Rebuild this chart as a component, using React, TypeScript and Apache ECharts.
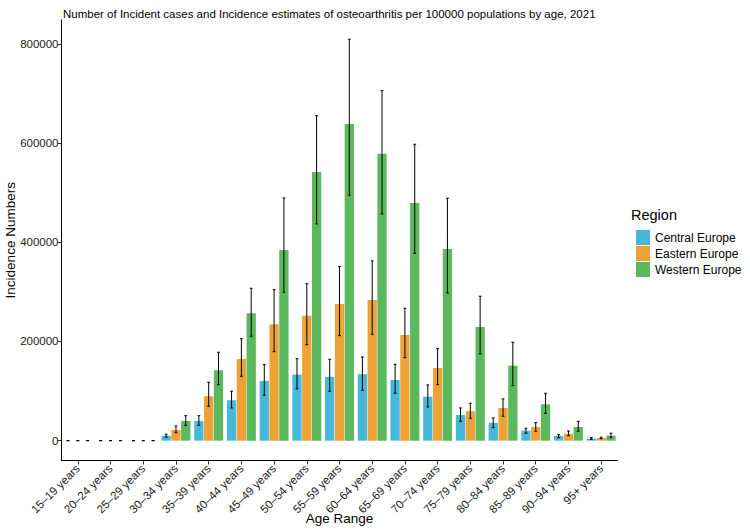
import React, { useEffect, useRef } from "react";
import * as echarts from "echarts";

const categories = [
  "15–19 years", "20–24 years", "25–29 years", "30–34 years", "35–39 years",
  "40–44 years", "45–49 years", "50–54 years", "55–59 years", "60–64 years",
  "65–69 years", "70–74 years", "75–79 years", "80–84 years", "85–89 years",
  "90–94 years", "95+ years",
];

const regions = ["Central Europe", "Eastern Europe", "Western Europe"];
const colors = ["#46B8DA", "#EEA236", "#5CB85C"];

const central = [0, 0, 0, 10000, 39700, 81400, 120400, 133100, 128700, 133900, 122400, 88700, 51800, 36000, 20200, 9500, 4000];
const centralLow = [0, 0, 0, 7000, 31000, 65900, 91500, 104200, 99600, 101600, 95600, 67900, 39100, 26200, 15000, 6000, 2800];
const centralHigh = [0, 0, 0, 13000, 50400, 99600, 153200, 165300, 164100, 168700, 154000, 112300, 65900, 45800, 25000, 12100, 6000];

const eastern = [0, 0, 0, 21600, 89500, 164700, 234700, 252000, 275600, 283700, 213100, 146600, 59300, 65900, 27600, 14100, 5400];
const easternLow = [0, 0, 0, 16000, 69300, 129800, 179400, 193500, 211700, 214500, 167300, 112900, 45200, 49200, 19000, 10100, 4000];
const easternHigh = [0, 0, 0, 29600, 117700, 205600, 304400, 316500, 350800, 362300, 266900, 185500, 75400, 84100, 36300, 19600, 7000];

const western = [0, 0, 0, 39700, 141900, 256800, 384500, 541700, 638500, 578600, 479200, 386500, 229200, 151200, 73400, 27600, 10000];
const westernLow = [0, 0, 0, 31000, 112900, 210500, 299200, 436900, 494700, 457000, 377800, 297700, 174800, 110900, 55200, 19000, 6000];
const westernHigh = [0, 0, 0, 50400, 178200, 307200, 489300, 655000, 809300, 705600, 597500, 488700, 291100, 198400, 95500, 39100, 15000];

const yTicks = [0, 200000, 400000, 600000, 800000];

const FONT = "'Liberation Sans', Arial, Helvetica, sans-serif";

export default function App() {
  const ref = useRef<HTMLDivElement>(null);
  useEffect(() => {
    document.body.style.margin = "0";
    if (!ref.current) return;
    const chart = echarts.init(ref.current, undefined, { renderer: "svg" });
    const values = [central, eastern, western];
    const lows = [centralLow, easternLow, westernLow];
    const highs = [centralHigh, easternHigh, westernHigh];

    const barSeries = regions.map((name, r) => ({
      name,
      type: "bar",
      barWidth: "28.4%",
      barGap: "5.6%",
      itemStyle: { color: colors[r] },
      data: values[r],
      z: 2,
    }));

    const errSeries = regions.map((name, r) => ({
      name: name + " err",
      type: "custom",
      z: 5,
      encode: { x: 0, y: [1, 2] },
      data: values[r].map((_, i) => [i, lows[r][i], highs[r][i]]),
      renderItem: (params: any, api: any) => {
        const idx = api.value(0);
        const band = api.size([1, 0])[0];
        const dx = (r - 1) * band * 0.3;
        const lo = api.coord([idx, api.value(1)]);
        const hi = api.coord([idx, api.value(2)]);
        const x = lo[0] + dx;
        const hw = 1.4;
        const style = { stroke: "#000", lineWidth: 1 };
        return {
          type: "group",
          children: [
            { type: "line", shape: { x1: x, y1: lo[1], x2: x, y2: hi[1] }, style },
            { type: "line", shape: { x1: x - hw, y1: lo[1], x2: x + hw, y2: lo[1] }, style },
            { type: "line", shape: { x1: x - hw, y1: hi[1], x2: x + hw, y2: hi[1] }, style },
          ],
        };
      },
    }));

    chart.setOption({
      animation: false,
      backgroundColor: "#fff",
      textStyle: { fontFamily: FONT },
      title: {
        text: "Number of Incident cases and Incidence estimates of osteoarthritis per 100000 populations by age, 2021",
        left: 58,
        top: 3,
        textStyle: { fontSize: 11.5, fontWeight: "normal", color: "#000", fontFamily: FONT },
      },
      legend: {
        data: regions,
        orient: "vertical",
        left: 631,
        top: 225,
        itemWidth: 14,
        itemHeight: 15,
        itemGap: 1,
        icon: "rect",
        textStyle: { fontSize: 12, color: "#000", fontFamily: FONT },
      },
      graphic: [
        {
          type: "text",
          left: 631,
          top: 207,
          style: { text: "Region", fontSize: 14.5, fill: "#000", fontFamily: FONT },
        },
      ],
      grid: {
        left: 61.5,
        right: 132.5,
        top: 20,
        bottom: 70.5,
        containLabel: false,
        outerBoundsMode: "none",
      },
      xAxis: {
        type: "category",
        data: categories,
        boundaryGap: true,
        name: "Age Range",
        nameLocation: "middle",
        nameGap: 51,
        nameMoveOverlap: false,
        nameTextStyle: { fontSize: 13.5, color: "#000", fontFamily: FONT },
        axisLine: { show: true, onZero: false, lineStyle: { color: "#000", width: 1 } },
        axisTick: { show: true, length: 4, alignWithLabel: true, interval: 0, lineStyle: { color: "#333" } },
        axisLabel: {
          interval: 0,
          rotate: 45,
          fontSize: 11.5,
          color: "#222",
          margin: 6,
          fontFamily: FONT,
        },
        splitLine: { show: false },
      },
      yAxis: {
        type: "value",
        min: -40000,
        max: 848000,
        name: "Incidence Numbers",
        nameLocation: "middle",
        nameGap: 44,
        nameMoveOverlap: false,
        nameTextStyle: { fontSize: 13.5, color: "#000", fontFamily: FONT },
        axisLine: { show: true, onZero: false, lineStyle: { color: "#000", width: 1 } },
        axisTick: { show: true, length: 4, customValues: yTicks, lineStyle: { color: "#333" } },
        axisLabel: {
          customValues: yTicks,
          formatter: (v: number) => String(v),
          fontSize: 11.5,
          color: "#222",
          margin: 3,
          fontFamily: FONT,
        },
        splitLine: { show: false },
      },
      series: [...barSeries, ...errSeries],
    });
    return () => chart.dispose();
  }, []);
  return <div ref={ref} style={{ width: 750, height: 531 }} />;
}
